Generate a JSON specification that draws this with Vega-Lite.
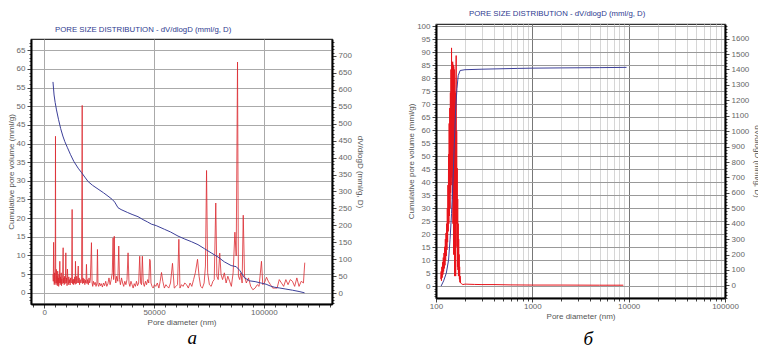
{
  "$schema": "https://vega.github.io/schema/vega-lite/v6.json",
  "background": "white",
  "padding": {"left": 6, "top": 8, "right": 5, "bottom": 0},
  "config": {
    "font": "Liberation Sans",
    "view": {"stroke": "#333", "strokeWidth": 1.2},
    "axis": {
      "labelFont": "Liberation Sans", "labelFontSize": 8, "labelColor": "#666",
      "titleFont": "Liberation Sans", "titleFontSize": 8, "titleFontWeight": "normal", "titleColor": "#555",
      "domain": true, "domainColor": "black", "domainWidth": 2, "tickColor": "#444", "gridColor": "#aaa", "gridWidth": 1,
      "labelPadding": 2, "titlePadding": 4, "labelOverlap": false, "labelFlush": false
    },
    "axisX": {"labelPadding": 0, "titlePadding": 2},
    "axisLeft": {"titlePadding": 1},
    "title": {"font": "Liberation Sans", "fontSize": 7.8, "fontWeight": "normal", "color": "#2e3a8f", "frame": "group"}
  },
  "datasets": {
    "a_cum": [
      {"d":4000,"v":56.5},{"d":4500,"v":53},{"d":5000,"v":51},{"d":5600,"v":49},{"d":6500,"v":46.5},{"d":7500,"v":44},
      {"d":8500,"v":42},{"d":9400,"v":40.5},{"d":10500,"v":39},{"d":12000,"v":37},{"d":13500,"v":35.2},{"d":15450,"v":33.4},
      {"d":17000,"v":32.2},{"d":18500,"v":31},{"d":20000,"v":29.8},{"d":22000,"v":28.8},{"d":24500,"v":27.8},{"d":27000,"v":26.8},
      {"d":29500,"v":25.7},{"d":31000,"v":25},{"d":32100,"v":24.3},{"d":33600,"v":22.8},{"d":35000,"v":22.3},{"d":38000,"v":21.5},
      {"d":40000,"v":21},{"d":42700,"v":20.4},{"d":45000,"v":19.6},{"d":47000,"v":19},{"d":48800,"v":18.4},{"d":51000,"v":18},
      {"d":54800,"v":17},{"d":57500,"v":16.3},{"d":60900,"v":15.2},{"d":64000,"v":14.4},{"d":67000,"v":13.7},{"d":70000,"v":12.9},
      {"d":73000,"v":11.8},{"d":76000,"v":10.7},{"d":79100,"v":9.6},{"d":82000,"v":8.3},{"d":85100,"v":7.3},{"d":87400,"v":7},
      {"d":89000,"v":6},{"d":91200,"v":4},{"d":93500,"v":3.2},{"d":96000,"v":3},{"d":98800,"v":2.6},{"d":101000,"v":2.3},
      {"d":103000,"v":1.8},{"d":104800,"v":1.5},{"d":107000,"v":1.3},{"d":110000,"v":1},{"d":113000,"v":0.7},{"d":116000,"v":0.35},
      {"d":118500,"v":0}
    ],
    "a_dv": [
      {"d":4000,"v":55},{"d":4150,"v":35},{"d":4300,"v":150},{"d":4450,"v":45},{"d":4600,"v":25},{"d":4750,"v":60},{"d":4900,"v":30},
      {"d":5050,"v":130},{"d":5150,"v":463},{"d":5250,"v":40},{"d":5400,"v":25},{"d":5550,"v":70},{"d":5700,"v":30},{"d":5850,"v":50},
      {"d":6000,"v":22},{"d":6150,"v":65},{"d":6300,"v":28},{"d":6450,"v":45},{"d":6600,"v":20},{"d":6750,"v":55},{"d":6900,"v":30},
      {"d":7120,"v":94},{"d":7300,"v":25},{"d":7450,"v":48},{"d":7600,"v":30},{"d":7750,"v":60},{"d":7900,"v":22},{"d":8050,"v":42},
      {"d":8200,"v":28},{"d":8400,"v":55},{"d":8630,"v":134},{"d":8800,"v":30},{"d":8950,"v":45},{"d":9100,"v":25},{"d":9300,"v":50},
      {"d":9500,"v":28},{"d":9700,"v":40},{"d":9850,"v":119},{"d":10000,"v":30},{"d":10200,"v":45},{"d":10400,"v":22},{"d":10600,"v":71},
      {"d":10800,"v":35},{"d":11000,"v":25},{"d":11200,"v":48},{"d":11400,"v":30},{"d":11600,"v":40},{"d":11800,"v":24},{"d":12000,"v":45},
      {"d":12300,"v":30},{"d":12500,"v":50},{"d":12720,"v":247},{"d":12900,"v":28},{"d":13100,"v":40},{"d":13300,"v":25},{"d":13500,"v":42},
      {"d":13700,"v":30},{"d":13900,"v":48},{"d":14100,"v":26},{"d":14240,"v":94},{"d":14400,"v":35},{"d":14600,"v":28},{"d":14800,"v":50},
      {"d":15000,"v":30},{"d":15200,"v":38},{"d":15500,"v":80},{"d":15700,"v":30},{"d":15900,"v":45},{"d":16100,"v":25},{"d":16400,"v":40},
      {"d":16700,"v":30},{"d":17000,"v":35},{"d":17300,"v":554},{"d":17500,"v":28},{"d":17700,"v":45},{"d":17900,"v":30},{"d":18200,"v":42},
      {"d":18500,"v":25},{"d":18800,"v":38},{"d":19000,"v":30},{"d":19240,"v":85},{"d":19500,"v":28},{"d":19800,"v":40},{"d":20100,"v":25},
      {"d":20400,"v":45},{"d":20700,"v":30},{"d":21000,"v":38},{"d":21520,"v":149},{"d":21800,"v":30},{"d":22100,"v":20},{"d":22400,"v":35},
      {"d":22800,"v":25},{"d":23200,"v":32},{"d":23600,"v":20},{"d":24000,"v":30},{"d":24250,"v":129},{"d":24500,"v":25},{"d":24800,"v":20},
      {"d":25200,"v":30},{"d":25600,"v":22},{"d":26000,"v":28},{"d":26500,"v":18},{"d":27000,"v":30},{"d":27500,"v":22},{"d":28000,"v":35},
      {"d":28500,"v":20},{"d":29000,"v":28},{"d":29500,"v":45},{"d":30000,"v":25},{"d":30500,"v":40},{"d":31000,"v":60},{"d":31360,"v":163},
      {"d":31600,"v":40},{"d":31900,"v":168},{"d":32200,"v":55},{"d":32600,"v":30},{"d":33000,"v":50},{"d":33500,"v":35},{"d":33940,"v":139},
      {"d":34300,"v":40},{"d":34700,"v":25},{"d":35200,"v":45},{"d":35700,"v":30},{"d":36200,"v":20},{"d":36700,"v":35},{"d":37200,"v":25},
      {"d":37700,"v":40},{"d":38180,"v":119},{"d":38600,"v":30},{"d":39000,"v":20},{"d":39500,"v":35},{"d":40000,"v":25},{"d":40500,"v":15},
      {"d":41000,"v":28},{"d":41500,"v":20},{"d":42000,"v":35},{"d":42500,"v":22},{"d":43000,"v":30},{"d":43480,"v":109},{"d":43900,"v":30},
      {"d":44300,"v":25},{"d":44690,"v":109},{"d":45100,"v":30},{"d":45600,"v":20},{"d":46100,"v":35},{"d":46600,"v":25},{"d":47100,"v":40},
      {"d":47600,"v":30},{"d":48030,"v":100},{"d":48300,"v":95},{"d":48600,"v":30},{"d":49100,"v":20},{"d":49600,"v":15},{"d":50200,"v":25},
      {"d":50800,"v":20},{"d":51500,"v":30},{"d":52200,"v":15},{"d":52800,"v":35},{"d":53400,"v":61},{"d":54000,"v":35},{"d":54700,"v":15},
      {"d":55400,"v":25},{"d":56000,"v":20},{"d":56700,"v":15},{"d":57500,"v":30},{"d":58400,"v":88},{"d":59200,"v":15},{"d":60000,"v":20},
      {"d":60700,"v":25},{"d":61300,"v":159},{"d":61800,"v":15},{"d":62500,"v":25},{"d":63200,"v":20},{"d":64000,"v":30},{"d":64800,"v":25},
      {"d":65600,"v":15},{"d":66400,"v":30},{"d":67200,"v":20},{"d":68000,"v":40},{"d":68800,"v":60},{"d":69800,"v":100},{"d":70500,"v":50},
      {"d":71200,"v":20},{"d":72000,"v":15},{"d":72800,"v":30},{"d":73400,"v":80},{"d":73900,"v":362},{"d":74400,"v":60},{"d":75200,"v":25},
      {"d":76000,"v":20},{"d":76800,"v":35},{"d":77400,"v":40},{"d":78100,"v":266},{"d":78600,"v":50},{"d":79200,"v":40},{"d":79900,"v":118},
      {"d":80500,"v":55},{"d":81200,"v":40},{"d":82000,"v":60},{"d":82800,"v":30},{"d":83600,"v":50},{"d":84400,"v":35},{"d":85200,"v":20},
      {"d":86000,"v":60},{"d":86800,"v":180},{"d":87400,"v":110},{"d":88000,"v":682},{"d":88400,"v":50},{"d":89000,"v":40},{"d":89500,"v":60},
      {"d":90100,"v":30},{"d":90600,"v":230},{"d":91200,"v":50},{"d":92000,"v":30},{"d":93000,"v":45},{"d":94000,"v":20},{"d":95000,"v":10},
      {"d":96000,"v":15},{"d":97000,"v":25},{"d":97800,"v":20},{"d":98900,"v":94},{"d":99500,"v":25},{"d":100200,"v":30},{"d":101200,"v":47},
      {"d":102000,"v":35},{"d":103000,"v":25},{"d":104000,"v":15},{"d":105000,"v":15},{"d":106000,"v":15},{"d":107000,"v":40},{"d":108000,"v":30},
      {"d":109000,"v":20},{"d":110000,"v":40},{"d":111000,"v":25},{"d":112000,"v":40},{"d":113000,"v":35},{"d":114000,"v":20},{"d":115000,"v":45},
      {"d":116000,"v":20},{"d":117000,"v":35},{"d":118000,"v":30},{"d":118600,"v":90}
    ],
    "b_cum": [
      {"d":113,"v":0},{"d":120,"v":2},{"d":128,"v":5},{"d":135,"v":10},{"d":140,"v":18},{"d":145,"v":28},{"d":150,"v":40},
      {"d":155,"v":55},{"d":160,"v":68},{"d":165,"v":76},{"d":170,"v":81},{"d":178,"v":83},{"d":200,"v":83.3},{"d":300,"v":83.5},
      {"d":400,"v":83.6},{"d":700,"v":83.8},{"d":1000,"v":83.9},{"d":2000,"v":84},{"d":5000,"v":84.1},{"d":9500,"v":84.2}
    ],
    "b_dv": [
      {"d":112,"v":40},{"d":113,"v":90},{"d":114,"v":30},{"d":115,"v":120},{"d":116,"v":50},{"d":117,"v":150},{"d":118,"v":70},
      {"d":119,"v":180},{"d":120,"v":90},{"d":121,"v":210},{"d":122,"v":110},{"d":123,"v":250},{"d":124,"v":130},{"d":125,"v":300},
      {"d":126,"v":160},{"d":127,"v":340},{"d":128,"v":190},{"d":129,"v":400},{"d":130,"v":230},{"d":131,"v":500},{"d":132,"v":280},
      {"d":133,"v":650},{"d":134,"v":350},{"d":135,"v":850},{"d":136,"v":400},{"d":137,"v":1050},{"d":138,"v":450},{"d":139,"v":1150},
      {"d":140,"v":500},{"d":141,"v":1250},{"d":142,"v":600},{"d":143,"v":1400},{"d":144,"v":700},{"d":145,"v":1540},{"d":146,"v":650},
      {"d":147,"v":1440},{"d":148,"v":560},{"d":149,"v":1450},{"d":150,"v":400},{"d":151,"v":1430},{"d":152,"v":200},{"d":153,"v":1420},
      {"d":154,"v":450},{"d":155,"v":1400},{"d":156,"v":60},{"d":157,"v":1100},{"d":158,"v":180},{"d":159,"v":1250},{"d":160,"v":60},
      {"d":161,"v":1300},{"d":162,"v":1490},{"d":163,"v":400},{"d":164,"v":1000},{"d":165,"v":250},{"d":166,"v":760},{"d":167,"v":120},
      {"d":168,"v":560},{"d":169,"v":100},{"d":170,"v":400},{"d":171,"v":60},{"d":172,"v":300},{"d":173,"v":80},{"d":174,"v":200},
      {"d":175,"v":40},{"d":176,"v":120},{"d":177,"v":20},{"d":178,"v":60},{"d":180,"v":15},{"d":185,"v":10},{"d":190,"v":5},
      {"d":200,"v":8},{"d":250,"v":6},{"d":300,"v":5},{"d":400,"v":5},{"d":600,"v":3},{"d":1000,"v":2},{"d":2000,"v":2},
      {"d":5000,"v":1},{"d":8800,"v":1}
    ]
  },
  "spacing": 43,
  "hconcat": [
    {
      "spacing": 0,
      "bounds": "flush",
      "title": {"text": "a", "orient": "bottom", "anchor": "middle", "frame": "bounds", "font": "Liberation Serif", "fontStyle": "italic", "fontSize": 19, "color": "black", "offset": 2, "dx": 7},
      "vconcat": [
        {"data": {"values": []}, "mark": "point", "width": 301, "height": 15, "view": {"stroke": null}},
        {
          "width": 301, "height": 265,
          "title": {"text": "PORE SIZE DISTRIBUTION - dV/dlogD (mml/g, D)", "anchor": "start", "dx": 24, "offset": 5},
          "resolve": {"scale": {"y": "independent"}},
          "encoding": {
            "x": {"field": "d", "type": "quantitative", "scale": {"domain": [-6000, 131000], "nice": false, "zero": false},
              "axis": {"title": "Pore diameter (nm)", "format": "d", "grid": true,
                "values": [-5000,0,5000,10000,15000,20000,25000,30000,35000,40000,45000,50000,55000,60000,65000,70000,75000,80000,85000,90000,95000,100000,105000,110000,115000,120000,125000,130000],
                "labelExpr": "datum.value % 50000 === 0 ? datum.label : ''",
                "gridOpacity": {"condition": {"test": "datum.value % 50000 === 0", "value": 1}, "value": 0},
                "tickSize": {"condition": {"test": "datum.value % 50000 === 0", "value": 4}, "value": 3}}}
          },
          "layer": [
            {
              "data": {"name": "a_dv"},
              "mark": {"type": "line", "color": "#dc2a30", "strokeWidth": 0.8, "clip": true},
              "encoding": {
                "y": {"field": "v", "type": "quantitative", "scale": {"domain": [-32, 750], "nice": false, "zero": false},
                  "axis": {"orient": "right", "title": "dV/dlogD (mml/g, D)", "grid": false, "format": "d",
                    "values": [-30,-20,-10,0,10,20,30,40,50,60,70,80,90,100,110,120,130,140,150,160,170,180,190,200,210,220,230,240,250,260,270,280,290,300,310,320,330,340,350,360,370,380,390,400,410,420,430,440,450,460,470,480,490,500,510,520,530,540,550,560,570,580,590,600,610,620,630,640,650,660,670,680,690,700,710,720,730,740],
                    "labelExpr": "datum.value % 50 === 0 ? datum.label : ''",
                    "tickSize": {"condition": {"test": "datum.value % 50 === 0", "value": 4}, "value": 2}}}
              }
            },
            {
              "data": {"name": "a_cum"},
              "mark": {"type": "line", "color": "#3c3f99", "strokeWidth": 1, "clip": true},
              "encoding": {
                "y": {"field": "v", "type": "quantitative", "scale": {"domain": [-3, 68], "nice": false, "zero": false},
                  "axis": {"orient": "left", "title": "Cumulative pore volume (mml/g)", "grid": true,
                    "values": [-2,-1,0,1,2,3,4,5,6,7,8,9,10,11,12,13,14,15,16,17,18,19,20,21,22,23,24,25,26,27,28,29,30,31,32,33,34,35,36,37,38,39,40,41,42,43,44,45,46,47,48,49,50,51,52,53,54,55,56,57,58,59,60,61,62,63,64,65,66,67],
                    "labelExpr": "datum.value % 5 === 0 ? datum.label : ''",
                    "gridOpacity": {"condition": {"test": "datum.value % 5 === 0", "value": 1}, "value": 0},
                    "tickSize": {"condition": {"test": "datum.value % 5 === 0", "value": 4}, "value": 2}}}
              }
            }
          ]
        }
      ]
    },
    {
      "title": {"text": "б", "orient": "bottom", "anchor": "middle", "frame": "bounds", "font": "Liberation Serif", "fontStyle": "italic", "fontSize": 19, "color": "black", "offset": 9, "dx": 4},
      "vconcat": [
        {
          "width": 289, "height": 274,
          "title": {"text": "PORE SIZE DISTRIBUTION - dV/dlogD (mml/g, D)", "anchor": "start", "dx": 33, "offset": 5},
          "resolve": {"scale": {"y": "independent"}},
          "encoding": {
            "x": {"field": "d", "type": "quantitative", "scale": {"type": "log", "domain": [100, 100000], "nice": false},
              "axis": {"title": "Pore diameter (nm)", "format": "d", "grid": true,
                "values": [100,200,300,400,500,600,700,800,900,1000,2000,3000,4000,5000,6000,7000,8000,9000,10000,20000,30000,40000,50000,60000,70000,80000,90000,100000],
                "labelExpr": "(datum.value === 100 || datum.value === 1000 || datum.value === 10000 || datum.value === 100000) ? datum.label : ''",
                "gridColor": {"condition": {"test": "datum.value === 1000 || datum.value === 10000", "value": "#777"}, "value": "#d6d6d6"},
                "tickSize": {"condition": {"test": "datum.value === 100 || datum.value === 1000 || datum.value === 10000 || datum.value === 100000", "value": 4}, "value": 3}}}
          },
          "layer": [
            {
              "data": {"name": "b_dv"},
              "mark": {"type": "line", "color": "#e8141b", "strokeWidth": 1, "clip": true},
              "encoding": {
                "y": {"field": "v", "type": "quantitative", "scale": {"domain": [-82, 1695], "nice": false, "zero": false},
                  "axis": {"orient": "right", "title": "dV/dlogD (mml/g, D)", "grid": false, "format": "d",
                    "values": [-80,-60,-40,-20,0,20,40,60,80,100,120,140,160,180,200,220,240,260,280,300,320,340,360,380,400,420,440,460,480,500,520,540,560,580,600,620,640,660,680,700,720,740,760,780,800,820,840,860,880,900,920,940,960,980,1000,1020,1040,1060,1080,1100,1120,1140,1160,1180,1200,1220,1240,1260,1280,1300,1320,1340,1360,1380,1400,1420,1440,1460,1480,1500,1520,1540,1560,1580,1600,1620,1640,1660,1680],
                    "labelExpr": "datum.value % 100 === 0 ? datum.label : ''",
                    "tickSize": {"condition": {"test": "datum.value % 100 === 0", "value": 4}, "value": 2}}}
              }
            },
            {
              "data": {"name": "b_cum"},
              "mark": {"type": "line", "color": "#3c3f99", "strokeWidth": 1, "clip": true},
              "encoding": {
                "y": {"field": "v", "type": "quantitative", "scale": {"domain": [-4.6, 100.9], "nice": false, "zero": false},
                  "axis": {"orient": "left", "title": "Cumulative pore volume (mml/g)", "grid": true, "gridColor": "#999",
                    "values": [-4,-3,-2,-1,0,1,2,3,4,5,6,7,8,9,10,11,12,13,14,15,16,17,18,19,20,21,22,23,24,25,26,27,28,29,30,31,32,33,34,35,36,37,38,39,40,41,42,43,44,45,46,47,48,49,50,51,52,53,54,55,56,57,58,59,60,61,62,63,64,65,66,67,68,69,70,71,72,73,74,75,76,77,78,79,80,81,82,83,84,85,86,87,88,89,90,91,92,93,94,95,96,97,98,99,100],
                    "labelExpr": "datum.value % 5 === 0 ? datum.label : ''",
                    "gridOpacity": {"condition": {"test": "datum.value % 5 === 0", "value": 1}, "value": 0},
                    "tickSize": {"condition": {"test": "datum.value % 5 === 0", "value": 4}, "value": 2}}}
              }
            }
          ]
        }
      ]
    }
  ]
}
